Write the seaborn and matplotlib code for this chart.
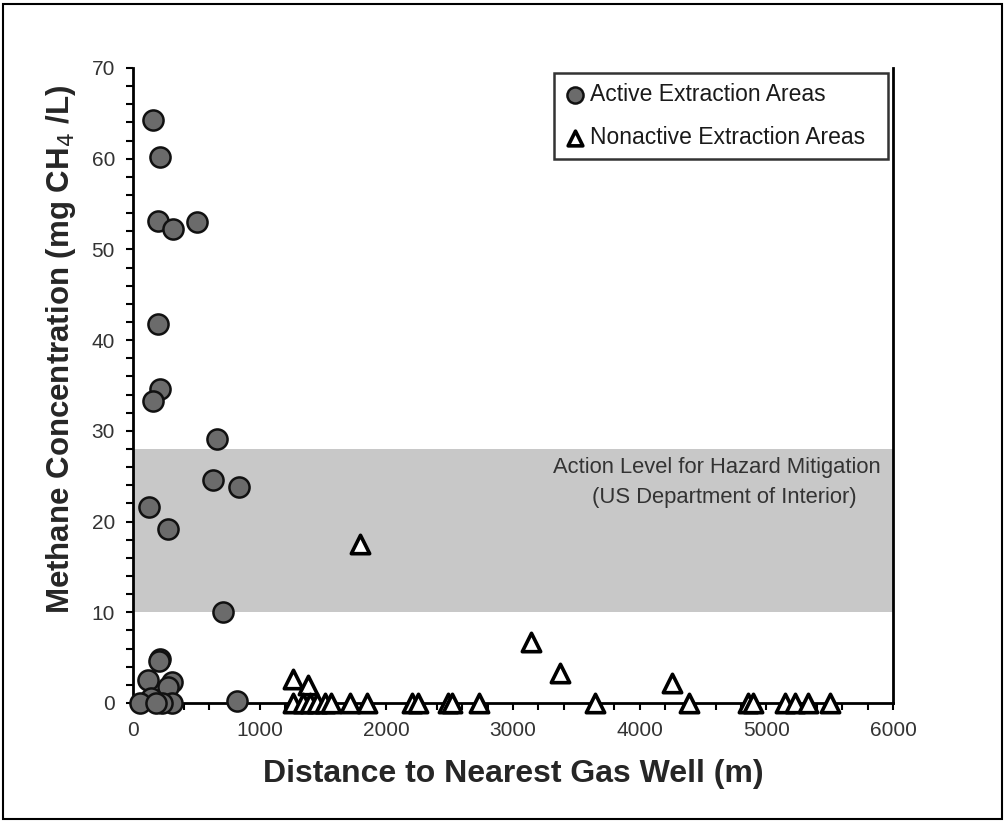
import numpy as np
import pandas as pd
import matplotlib
matplotlib.use("Agg")
import matplotlib.pyplot as plt
from matplotlib.patches import Rectangle
from matplotlib.ticker import MultipleLocator
import seaborn as sns

# active extraction areas (distance m, methane mg/L)
active_x = [158, 213, 197, 316, 505, 197, 213, 158, 663, 631, 837, 126, 276, 710,
            213, 205, 118, 308, 276, 142, 55, 308, 821, 230, 180]
active_y = [64.3, 60.2, 53.1, 52.3, 53.0, 41.8, 34.6, 33.3, 29.1, 24.6, 23.8, 21.6, 19.2, 10.0,
            4.9, 4.6, 2.5, 2.3, 1.8, 0.5, 0.0, 0.0, 0.2, 0.0, 0.0]

# nonactive extraction areas
nonactive_x = [1790, 3141, 3370, 4254, 1263, 1381,
               1263, 1340, 1400, 1455, 1515, 1560, 1713, 1847, 2202, 2249, 2486, 2518, 2731,
               3646, 4388, 4854, 4893, 5146, 5225, 5328, 5501]
nonactive_y = [17.5, 6.7, 3.3, 2.2, 2.6, 2.0,
               0, 0, 0, 0, 0, 0, 0, 0, 0, 0, 0, 0, 0,
               0, 0, 0, 0, 0, 0, 0, 0]

band_lo, band_hi = 10, 28

sns.set_theme(style="ticks")
plt.rcParams['font.family'] = ['Liberation Sans', 'DejaVu Sans']

fig = plt.figure(figsize=(10.05, 8.22), dpi=100)
ax = fig.add_axes([0.1323, 0.1448, 0.7563, 0.7725])

ax.axhspan(band_lo, band_hi, color="#c8c8c8", lw=0, zorder=0)

df_a = pd.DataFrame({"x": active_x, "y": active_y})
df_n = pd.DataFrame({"x": nonactive_x, "y": nonactive_y})
sns.scatterplot(data=df_a, x="x", y="y", ax=ax, marker="o", s=210, color="#6b6b6b",
                edgecolor="#111111", linewidth=1.8, label="Active Extraction Areas  ",
                zorder=3, clip_on=False)
sns.scatterplot(data=df_n, x="x", y="y", ax=ax, marker="^", s=175, color="white",
                edgecolor="black", linewidth=2.6, label="Nonactive Extraction Areas  ",
                zorder=4, clip_on=False)

ax.set_xlim(0, 6000)
ax.set_ylim(0, 70)
ax.xaxis.set_major_locator(MultipleLocator(1000))
ax.xaxis.set_minor_locator(MultipleLocator(200))
ax.yaxis.set_major_locator(MultipleLocator(10))
ax.yaxis.set_minor_locator(MultipleLocator(2))
ax.tick_params(which="both", direction="out", length=5, width=1.5, color="black",
               labelsize=15, labelcolor="#333333", pad=8)

for side in ["left", "bottom", "right"]:
    ax.spines[side].set_linewidth(2)
    ax.spines[side].set_color("black")
ax.spines["top"].set_visible(False)

ax.set_xlabel("Distance to Nearest Gas Well (m)", fontsize=23, fontweight="bold", labelpad=14)
ax.set_ylabel("Methane Concentration (mg CH$_4$ /L)", fontsize=22.5, fontweight="bold",
              labelpad=10, y=0.557)

ax.text(3315, 26.0, "Action Level for Hazard Mitigation",
        ha="left", va="center", fontsize=15.8, color="#333333")
ax.text(3623, 22.6, "(US Department of Interior)",
        ha="left", va="center", fontsize=15.8, color="#333333")

leg = ax.legend(loc="upper right", bbox_to_anchor=(0.9935, 0.992), fontsize=16.5,
                frameon=True, fancybox=False, edgecolor="black", handletextpad=0.2,
                borderpad=0.45, labelspacing=0.85, markerscale=0.8, handlelength=0.9,
                borderaxespad=0)
leg.get_frame().set_linewidth(1.8)
for t in leg.get_texts():
    t.set_color("#1a1a1a")

fig.patches.append(Rectangle((0.003, 0.004), 0.994, 0.991, transform=fig.transFigure,
                             fill=False, edgecolor="black", linewidth=1.5))

fig.savefig("out.png", dpi=100)
